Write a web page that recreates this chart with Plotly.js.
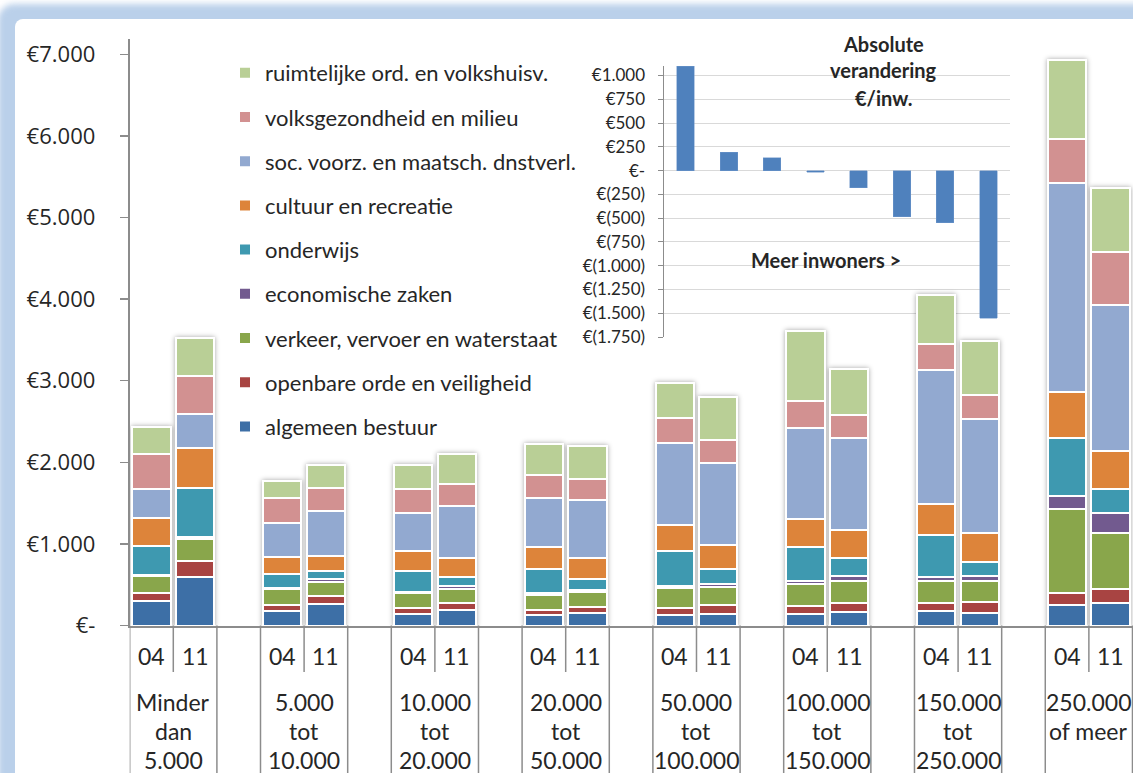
<!DOCTYPE html>
<html><head><meta charset="utf-8">
<script src="https://cdn.plot.ly/plotly-3.0.1.min.js"></script>
<style>
html,body{margin:0;padding:0;width:1133px;height:773px;overflow:hidden;background:#fff;}
#frame{position:absolute;left:-2px;top:4px;width:1300px;height:1000px;border-radius:16px;background:#bad0ea;filter:blur(3px);}
#inner{position:absolute;left:15px;top:19px;width:1300px;height:1000px;border-radius:8px;background:#fff;}
#chart{position:absolute;left:0;top:0;width:1133px;height:773px;}
</style></head><body>
<div id="frame"></div><div id="inner"></div><div id="chart"></div>
<script>
// ---- data ----
var categories = ["Minder<br>dan<br>5.000", "5.000<br>tot<br>10.000", "10.000<br>tot<br>20.000", "20.000<br>tot<br>50.000", "50.000<br>tot<br>100.000", "100.000<br>tot<br>150.000", "150.000<br>tot<br>250.000", "250.000<br>of meer"];
var years = ["04", "11"];
// values per series, order: group1-04, group1-11, group2-04, ...
var algemeenBestuur   = [299, 594, 176, 266, 139, 184, 123, 152, 127, 135, 135, 168, 172, 156, 246, 279];
var openbareOrde      = [105, 197, 78, 95, 70, 86, 61, 78, 90, 115, 107, 107, 103, 127, 156, 172];
var verkeer           = [205, 275, 193, 176, 189, 177, 193, 180, 242, 225, 270, 270, 270, 262, 1024, 684];
var economischeZaken  = [10, 20, 12, 29, 16, 33, 16, 20, 29, 37, 33, 62, 49, 57, 160, 238];
var onderwijs         = [355, 603, 176, 102, 258, 118, 296, 140, 430, 177, 418, 221, 521, 177, 717, 299];
var cultuur           = [349, 487, 205, 189, 246, 230, 270, 254, 316, 295, 344, 340, 369, 360, 554, 463];
var socVoorz          = [352, 418, 410, 545, 459, 631, 602, 709, 1000, 1012, 1119, 1127, 1643, 1386, 2563, 1791];
var volksgezondheid   = [422, 467, 307, 278, 295, 271, 283, 258, 311, 283, 328, 287, 324, 295, 543, 647];
var ruimtelijkeOrd    = [336, 464, 213, 283, 295, 377, 377, 414, 430, 516, 853, 561, 594, 672, 961, 793];
var insetChange       = [1095, 193, 137, -18, -180, -484, -548, -1552];

var seriesNames = ["algemeen bestuur", "openbare orde en veiligheid", "verkeer, vervoer en waterstaat", "economische zaken", "onderwijs", "cultuur en recreatie", "soc. voorz. en maatsch. dnstverl.", "volksgezondheid en milieu", "ruimtelijke ord. en volkshuisv."];
var seriesValues = [algemeenBestuur, openbareOrde, verkeer, economischeZaken, onderwijs, cultuur, socVoorz, volksgezondheid, ruimtelijkeOrd];
var seriesColors = ["#3d6fa6", "#a84442", "#89a64b", "#725a8f", "#3e99b0", "#dd843a", "#92a9d0", "#d29191", "#b9cf96"];

var mainYTicks = [0, 1000, 2000, 3000, 4000, 5000, 6000, 7000];
var mainYText = ["€-", "€1.000", "€2.000", "€3.000", "€4.000", "€5.000", "€6.000", "€7.000"];
var insetYTicks = [1000, 750, 500, 250, 0, -250, -500, -750, -1000, -1250, -1500, -1750];
var insetYText = ["€1.000", "€750", "€500", "€250", "€-", "€(250)", "€(500)", "€(750)", "€(1.000)", "€(1.250)", "€(1.500)", "€(1.750)"];

// ---- positions of bars in slots ----
var xs = [];
for (var g = 0; g < categories.length; g++) for (var j = 0; j < years.length; j++) xs.push(3 * g + j);

var traces = [];
// inset first (subplot xy), so main bars are drawn above its gridlines
traces.push({
  type: 'bar', x: insetChange.map(function (v, i) { return i; }), y: insetChange,
  xaxis: 'x', yaxis: 'y', width: 0.41, showlegend: false,
  marker: { color: '#4f81bd', line: { color: '#6f97cc', width: 0.5 } }, hoverinfo: 'skip'
});
for (var s = 0; s < seriesNames.length; s++) {
  traces.push({
    type: 'bar', name: seriesNames[s], x: xs, y: seriesValues[s],
    xaxis: 'x2', yaxis: 'y2', width: 0.88, legendgroup: 'g' + s, legendrank: 100 - s,
    marker: { color: seriesColors[s], line: { color: '#ffffff', width: 2 } }
  });
}

var annotations = [];
var labFont = { family: 'Lato', size: 23, color: '#262626' };
for (var g2 = 0; g2 < categories.length; g2++) {
  for (var j2 = 0; j2 < years.length; j2++) {
    annotations.push({ x: 3 * g2 + j2, xref: 'x2', xanchor: 'center', y: (773 - 656) / 773, yref: 'paper', yanchor: 'middle',
      text: years[j2], showarrow: false, font: labFont });
  }
  var lines = categories[g2].split('<br>');
  for (var k = 0; k < lines.length; k++) {
    annotations.push({ x: 3 * g2 + 0.5, xref: 'x2', xanchor: 'center', y: (773 - (702 + 29 * k)) / 773, yref: 'paper', yanchor: 'middle',
      text: lines[k], showarrow: false, font: labFont });
  }
}
var titleLines = ["Absolute", "verandering", "€/inw."];
var titleYs = [44, 70, 97.5];
for (var t = 0; t < titleLines.length; t++) {
  annotations.push({ x: 884 / 1133, xref: 'paper', xanchor: 'center', y: (773 - titleYs[t]) / 773, yref: 'paper', yanchor: 'middle',
    text: '<b>' + titleLines[t] + '</b>', showarrow: false, font: { family: 'Lato', size: 20, color: '#262626' } });
}
annotations.push({ x: 826 / 1133, xref: 'paper', xanchor: 'center', y: (773 - 260) / 773, yref: 'paper', yanchor: 'middle',
  text: '<b>Meer inwoners ></b>', showarrow: false, font: { family: 'Lato', size: 20, color: '#262626' } });

var shapes = [];
var axisPaperY = (773 - 625.5) / 773;
for (var g3 = 0; g3 < categories.length; g3++) {
  [3 * g3 - 0.5, 3 * g3 + 1.5].forEach(function (xv) {
    shapes.push({ type: 'line', xref: 'x2', yref: 'paper', x0: xv, x1: xv, y0: axisPaperY, y1: -0.01,
      line: { color: '#8c8c8c', width: 1.5 } });
  });
  shapes.push({ type: 'line', xref: 'x2', yref: 'paper', x0: 3 * g3 + 0.5, x1: 3 * g3 + 0.5, y0: axisPaperY, y1: (773 - 672) / 773,
    line: { color: '#8c8c8c', width: 1.5 } });
}

var layout = {
  width: 1133, height: 773, margin: { l: 0, r: 0, t: 0, b: 0 },
  paper_bgcolor: 'rgba(0,0,0,0)', plot_bgcolor: 'rgba(0,0,0,0)',
  barmode: 'stack', showlegend: true,
  font: { family: 'Lato, sans-serif', color: '#262626' },
  xaxis: { domain: [664 / 1133, 1010 / 1133], range: [-0.5, 7.5], showticklabels: false, showline: false,
    zeroline: false, showgrid: false, ticks: '', anchor: 'y' },
  yaxis: { domain: [(773 - 337) / 773, (773 - 66) / 773], range: [-1750, 1100], tickvals: insetYTicks, ticktext: insetYText,
    showgrid: true, gridcolor: '#d9d9d9', gridwidth: 1, zeroline: false, showline: true, linecolor: '#8c8c8c', linewidth: 1.5,
    ticks: 'outside', ticklen: 5, tickcolor: '#8c8c8c', tickfont: { family: 'Lato', size: 17, color: '#262626' },
    ticklabelstandoff: 9, anchor: 'x' },
  xaxis2: { domain: [129.7 / 1133, 1], range: [-0.5, 22.512], showticklabels: false, showgrid: false, zeroline: false,
    showline: true, linecolor: '#8c8c8c', linewidth: 2, ticks: '', anchor: 'y2' },
  yaxis2: { domain: [(773 - 625.5) / 773, (773 - 39) / 773], range: [0, 7187], tickvals: mainYTicks, ticktext: mainYText,
    showgrid: false, zeroline: false, showline: true, linecolor: '#8c8c8c', linewidth: 2,
    ticks: 'outside', ticklen: 8, tickwidth: 1.5, tickcolor: '#8c8c8c',
    tickfont: { family: 'Open Sans', size: 22, color: '#262626' }, ticklabelstandoff: 20, anchor: 'x2' },
  legend: { x: 225 / 1133, y: (773 - 52) / 773, xanchor: 'left', yanchor: 'top', bgcolor: 'rgba(0,0,0,0)',
    font: { family: 'Lato', size: 22, color: '#262626' }, traceorder: 'grouped', tracegroupgap: 12.6 },
  annotations: annotations, shapes: shapes
};

Plotly.newPlot('chart', traces, layout, { displayModeBar: false, staticPlot: true }).then(function (gd) {
  var layers = gd.querySelectorAll('.subplot.x2y2 .barlayer');
  layers.forEach(function (l) { l.style.filter = 'drop-shadow(0px 0px 2.5px rgba(0,0,0,0.35))'; });
});
</script></body></html>
